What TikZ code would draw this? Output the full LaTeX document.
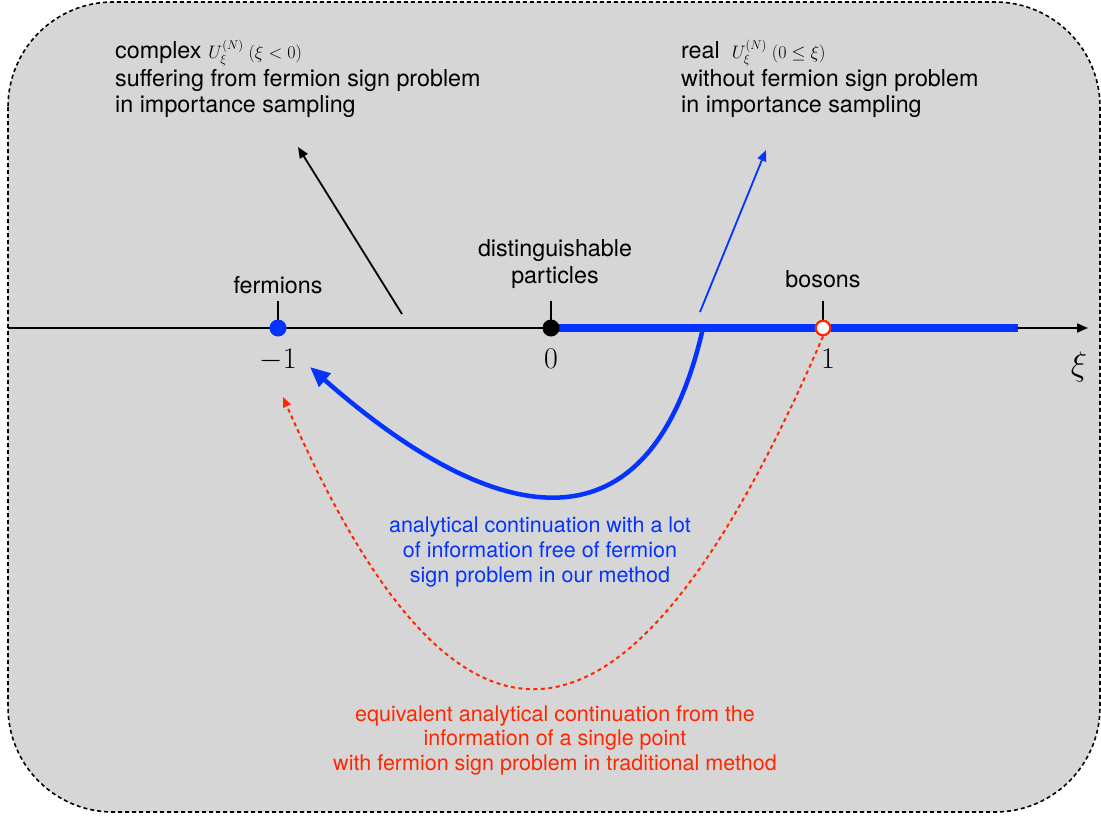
\RequirePackage{fix-cm}
\documentclass[tikz,border=0pt]{standalone}
\usepackage{fontspec}
\setmainfont{TeX Gyre Heros}
\usetikzlibrary{arrows.meta}
\definecolor{bgray}{RGB}{214,214,214}
\definecolor{kblue}{RGB}{4,51,255}
\definecolor{kred}{RGB}{255,38,0}
\newcommand\smath[1]{{\fontsize{18}{20}\selectfont$#1$}}
\tikzset{
  frame/.style={draw=black, fill=bgray, line width=1.6pt, dash pattern=on 4pt off 3pt, rounded corners=105pt},
  toptxt/.style={inner sep=0pt, anchor=base west, font=\fontsize{23.3}{26}\selectfont},
  lbl/.style={inner sep=0pt, anchor=base, font=\fontsize{23.3}{26}\selectfont},
  num/.style={inner sep=0pt, anchor=base, font=\fontsize{30}{30}\selectfont},
  bluetxt/.style={inner sep=0pt, anchor=base, text=kblue, font=\fontsize{21.5}{25}\selectfont},
  redtxt/.style={inner sep=0pt, anchor=base, text=kred, font=\fontsize{21.5}{25}\selectfont},
  dotnode/.style={circle, inner sep=0pt, minimum size=17pt},
  tickline/.style={line width=1.8pt},
  axisline/.style={line width=1.8pt, -{Triangle[length=11pt,width=9pt]}},
  thinarrow/.style={line width=1.8pt, -{Triangle[length=11pt,width=9pt]}},
}
\begin{document}
\begin{tikzpicture}[x=1pt,y=-1pt]
\useasboundingbox (0,0) rectangle (1101,816);
\draw[frame] (8,2) rectangle (1100,812);

% texts at top
\node[toptxt] (tl1) at (115,59) {complex\hspace{7pt}\smath{U_\xi^{(N)}\ (\xi<0)}};
\node[toptxt] (tl2) at (115,86) {suffering from fermion sign problem};
\node[toptxt] (tl3) at (115,112) {in importance sampling};
\node[toptxt] (tr1) at (681,59) {real\hspace{12pt}\smath{U_\xi^{(N)}\ (0\le\xi)}};
\node[toptxt] (tr2) at (681,86) {without fermion sign problem};
\node[toptxt] (tr3) at (681,112) {in importance sampling};

% axis
\coordinate (axl) at (8,328);
\coordinate (axr) at (1088,328);
\coordinate (barend) at (1018,328);
\draw[axisline] (axl) -- (axr);

% points
\coordinate (pf) at (278,328);
\coordinate (pd) at (551,328);
\coordinate (pb) at (823,328);
\draw[tickline] (pf) -- ++(0,-27);
\draw[tickline] (pd) -- ++(0,-27);
\draw[tickline] (pb) -- ++(0,-27);
\draw[kblue, line width=8.5pt] (pd) -- (barend);

\node[lbl] (fermlbl) at (278,293) {fermions};
\node[lbl] (dist1) at (555,256) {distinguishable};
\node[lbl] (dist2) at (555,283) {particles};
\node[lbl] (boslbl) at (823,287) {bosons};

\node[num] (m1) at (278,368) {$-1$};
\node[num] (z0) at (551,368) {$0$};
\node[num] (p1) at (828,368) {$1$};
\node[inner sep=0pt, anchor=base, font=\fontsize{34}{34}\selectfont] (xi) at (1079,375) {$\xi$};

% arrows up
\coordinate (k0) at (402,314);
\coordinate (k1) at (298,147);
\draw[thinarrow] (k0) -- (k1);
\coordinate (b0) at (700,312);
\coordinate (b1) at (766,150);
\draw[thinarrow, kblue] (b0) -- (b1);

% blue continuation
\coordinate (c0) at (703,328);
\coordinate (c1) at (310,367);
\draw[kblue, line width=4.5pt, -{Triangle[length=20pt,width=17pt]}] (c0) .. controls (645,582) and (471,509) .. (c1);

% red dotted continuation
\coordinate (r1) at (283,397);

\node[dotnode, fill=kblue] (ferm) at (pf) {};
\node[dotnode, fill=black] (dist) at (pd) {};
\node[circle, inner sep=0pt, minimum size=14.5pt, fill=white, draw=kred, line width=2.2pt] (bos) at (pb) {};

\draw[kred, line width=2pt, dash pattern=on 4pt off 3.5pt, -{Triangle[length=10pt,width=8pt]}] (bos.south) .. controls (620,808) and (451,782) .. (r1);

% bottom texts
\node[bluetxt] (bt1) at (540,532) {analytical continuation with a lot};
\node[bluetxt] (bt2) at (540,557) {of information free of fermion};
\node[bluetxt] (bt3) at (540,582) {sign problem in our method};
\node[redtxt] (rt1) at (555,721) {equivalent analytical continuation from the};
\node[redtxt] (rt2) at (555,745.5) {information of a single point};
\node[redtxt] (rt3) at (555,770) {with fermion sign problem in traditional method};
\end{tikzpicture}
\end{document}
